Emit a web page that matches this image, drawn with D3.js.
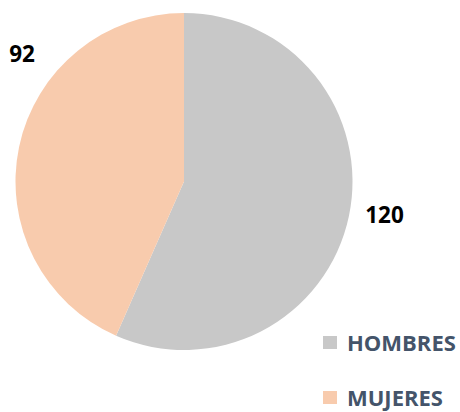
<!DOCTYPE html>
<html>
<head>
<meta charset="utf-8">
<script src="https://cdn.jsdelivr.net/npm/d3@7"></script>
<style>
	body { margin: 0; background: #fff; }
	text { font-family: "Open Sans", Lato, sans-serif; font-weight: bold; }
</style>
</head>
<body>
<script>
let categories = ["HOMBRES", "MUJERES"];
let values = [120, 92];
let colors = ["#C8C8C8", "#F8CBAD"];

let width = 460;
let height = 412;
let cx = 184, cy = 181.5, r = 168.5;

let svg = d3.select("body").append("svg")
	.attr("width", width)
	.attr("height", height);

let data = categories.map((c, i) => ({name: c, value: values[i], color: colors[i]}));

let pie = d3.pie()
	.value(d => d.value)
	.sort(null);

let arc = d3.arc()
	.innerRadius(0)
	.outerRadius(r);

let arcs = pie(data);

let g = svg.append("g")
	.attr("transform", `translate(${cx},${cy})`);

g.selectAll("path")
	.data(arcs)
	.enter().append("path")
	.attr("d", arc)
	.attr("fill", d => d.data.color);

// labels sit outside the pie, Excel style
let labelPos = [[200.5, 41], [-162, -119.5]];
g.selectAll(".lbl")
	.data(arcs)
	.enter().append("text")
	.attr("class", "lbl")
	.attr("x", (d, i) => labelPos[i][0])
	.attr("y", (d, i) => labelPos[i][1])
	.attr("text-anchor", "middle")
	.attr("font-size", 22.5)
	.attr("fill", "#000")
	.text(d => d.data.value);

let legend = svg.append("g")
	.attr("transform", "translate(323,336)");

let item = legend.selectAll(".item")
	.data(data)
	.enter().append("g")
	.attr("class", "item")
	.attr("transform", (d, i) => `translate(0,${i * 55})`);

item.append("rect")
	.attr("width", 14)
	.attr("height", 13)
	.attr("fill", d => d.color);

item.append("text")
	.attr("x", 24)
	.attr("y", 15)
	.attr("font-size", 22)
	.attr("fill", "#44546A")
	.text(d => d.name);
</script>
</body>
</html>
